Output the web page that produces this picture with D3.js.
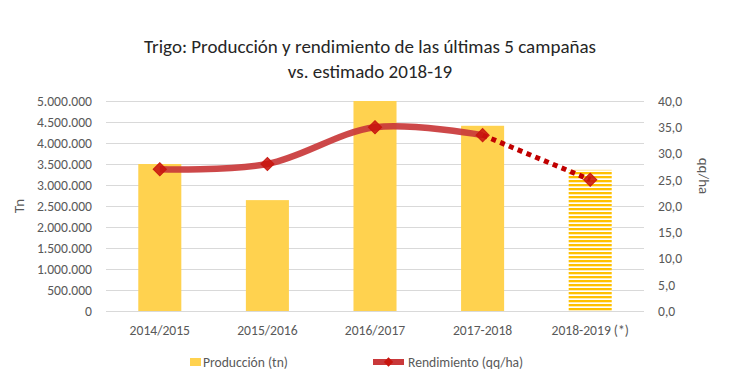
<!DOCTYPE html>
<html><head><meta charset="utf-8">
<script src="https://cdn.jsdelivr.net/npm/d3@7"></script>
<style>
body{margin:0;background:#fff;}
text{font-family:Carlito,Calibri,"Open Sans","Noto Sans",sans-serif;}
</style></head>
<body><svg id="c" width="735" height="389"></svg>
<script>
const categories = ["2014/2015","2015/2016","2016/2017","2017-2018","2018-2019 (*)"];
const produccion = [3500000, 2640000, 5000000, 4410000, 3360000];
const rendimiento = [27.0, 28.0, 35.0, 33.5, 25.0];
const estimated = [false, false, false, false, true];
const leftTicks = [0,500000,1000000,1500000,2000000,2500000,3000000,3500000,4000000,4500000,5000000];
const rightTicks = [0,5,10,15,20,25,30,35,40];
const titleLines = ["Trigo: Producción y rendimiento de las últimas 5 campañas","vs. estimado 2018-19"];

const svg = d3.select("#c");
const m={l:106,r:644,t:101,b:311};
const x = d3.scaleBand().domain(categories).range([m.l,m.r]).paddingInner(0.6).paddingOuter(0.3);
const yL = d3.scaleLinear().domain([0,5000000]).range([m.b,m.t]);
const yR = d3.scaleLinear().domain([0,40]).range([m.b,m.t]);
const fmtL = d => d3.format(",")(d).replace(/,/g,".");
const fmtR = d => d3.format(".1f")(d).replace(".",",");
const txt="#595959";
const FF="Carlito,Calibri,'Open Sans',sans-serif";

const defs=svg.append("defs");
const pat=defs.append("pattern").attr("id","stripes").attr("patternUnits","userSpaceOnUse")
  .attr("width",8).attr("height",4);
pat.append("rect").attr("width",8).attr("height",4).attr("fill","#fff");
pat.append("rect").attr("y",0).attr("width",8).attr("height",2.3).attr("fill","#ffc000");

svg.append("g").selectAll("text").data(titleLines).join("text")
  .attr("x",370).attr("y",(d,i)=>53+i*25).attr("text-anchor","middle")
  .attr("font-size",19).attr("fill","#262626").text(d=>d);

svg.append("g").selectAll("line").data(leftTicks).join("line")
  .attr("x1",m.l).attr("x2",m.r).attr("y1",d=>yL(d)+0.5).attr("y2",d=>yL(d)+0.5)
  .attr("stroke","#d9d9d9").attr("stroke-width",1);

const gl=svg.append("g").attr("transform",`translate(${m.l},0)`)
  .call(d3.axisLeft(yL).tickValues(leftTicks).tickFormat(fmtL).tickSize(0).tickPadding(14));
gl.select(".domain").remove();
gl.selectAll("text").attr("font-size",13.6).attr("fill",txt).style("font-family",FF);

const gr=svg.append("g").attr("transform",`translate(${m.r},0)`)
  .call(d3.axisRight(yR).tickValues(rightTicks).tickFormat(fmtR).tickSize(0).tickPadding(14));
gr.select(".domain").remove();
gr.selectAll("text").attr("font-size",13.6).attr("fill",txt).style("font-family",FF);

const gx=svg.append("g").attr("transform",`translate(0,${m.b})`)
  .call(d3.axisBottom(x).tickSize(0).tickPadding(14));
gx.select(".domain").remove();
gx.selectAll("text").attr("font-size",13.6).attr("fill",txt).style("font-family",FF);

svg.append("text").attr("transform","translate(24,206) rotate(-90)").attr("text-anchor","middle")
  .attr("font-size",15).attr("fill",txt).text("Tn");
svg.append("text").attr("transform","translate(699,176) rotate(90)").attr("text-anchor","middle")
  .attr("font-size",15).attr("fill",txt).text("qq/ha");

svg.append("g").selectAll("rect").data(categories).join("rect")
  .attr("x",d=>x(d)).attr("width",x.bandwidth())
  .attr("y",(d,i)=>yL(produccion[i])).attr("height",(d,i)=>m.b-yL(produccion[i]))
  .attr("fill",(d,i)=>estimated[i]?"url(#stripes)":"#ffd24f");

const pts=categories.map((c,i)=>[x(c)+x.bandwidth()/2,yR(rendimiento[i])]);
const solid=pts.filter((p,i)=>!estimated[i]);
svg.append("path").attr("d",d3.line().curve(d3.curveCatmullRom.alpha(0.5))(solid))
  .attr("fill","none").attr("stroke","#c9383a").attr("stroke-opacity",0.92).attr("stroke-width",6.5);
const lastIdx=estimated.indexOf(true);
svg.append("path").attr("d",d3.line()([pts[lastIdx-1],pts[lastIdx]]))
  .attr("fill","none").attr("stroke","#c00000").attr("stroke-width",5).attr("stroke-dasharray","5,4.5");

svg.append("g").selectAll("path").data(pts).join("path")
  .attr("transform",d=>`translate(${d[0]},${d[1]}) rotate(45)`)
  .attr("d",d3.symbol().type(d3.symbolSquare).size(88)())
  .attr("fill","#c8150e").attr("fill-opacity",0.88).attr("stroke","#c8150e").attr("stroke-opacity",0.9).attr("stroke-width",1);

const lg=svg.append("g");
lg.append("rect").attr("x",190).attr("y",358).attr("width",11).attr("height",8).attr("fill","#ffd24f");
lg.append("text").attr("x",203).attr("y",366.5).attr("font-size",13.6).attr("fill",txt).text("Producción (tn)");
lg.append("line").attr("x1",373).attr("x2",404).attr("y1",362).attr("y2",362).attr("stroke","#c9383a").attr("stroke-width",6);
lg.append("path").attr("transform","translate(388.5,362) rotate(45)")
  .attr("d",d3.symbol().type(d3.symbolSquare).size(44)()).attr("fill","#c8150e");
lg.append("text").attr("x",408).attr("y",366.5).attr("font-size",13.6).attr("fill",txt).text("Rendimiento (qq/ha)");
</script></body></html>
